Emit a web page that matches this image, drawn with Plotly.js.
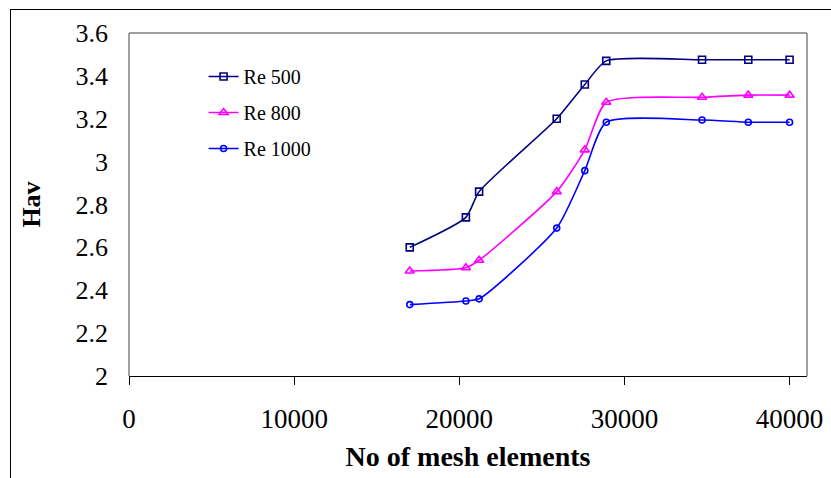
<!DOCTYPE html>
<html>
<head>
<meta charset="utf-8">
<script src="https://cdn.plot.ly/plotly-3.0.1.min.js"></script>
<style>
html,body{margin:0;padding:0;background:#fff;overflow:hidden;}
#wrap{position:relative;width:831px;height:478px;overflow:hidden;}
#frame{position:absolute;left:10px;top:9px;width:900px;height:600px;border:1px solid #000;pointer-events:none;z-index:5;}
#chart{position:absolute;left:0;top:0;width:831px;height:478px;}
</style>
</head>
<body>
<div id="wrap"><div id="chart"></div><div id="frame"></div></div>
<script>
// Data
const meshElements = [17000, 20400, 21200, 25900, 27600, 28900, 34700, 37500, 40000];
const re500  = [2.60, 2.74, 2.86, 3.20, 3.36, 3.47, 3.475, 3.475, 3.475];
const re800  = [2.49, 2.505, 2.54, 2.86, 3.055, 3.277, 3.30, 3.31, 3.31];
const re1000 = [2.333, 2.35, 2.36, 2.69, 2.958, 3.184, 3.194, 3.184, 3.184];
const seriesNames = ['Re 500', 'Re 800', 'Re 1000'];
const xTicks = [0, 10000, 20000, 30000, 40000];
const yTicks = [2, 2.2, 2.4, 2.6, 2.8, 3, 3.2, 3.4, 3.6];

const serif = 'Liberation Serif, Times New Roman, serif';

function trace(y, name, color, symbol, size, grp) {
  return {
    x: meshElements, y: y, name: name, type: 'scatter', mode: 'lines+markers',
    legendgroup: grp,
    line: {color: color, width: 1.6, shape: 'spline', smoothing: 0.6},
    marker: {symbol: symbol, size: size, color: color, line: {color: color, width: 1.6}}
  };
}

const data = [
  trace(re500, seriesNames[0], '#000080', 'square-open', 7, 'a'),
  trace(re800, seriesNames[1], '#FF00FF', 'triangle-up-open', 8, 'b'),
  trace(re1000, seriesNames[2], '#0000FF', 'circle-open', 6, 'c')
];

const layout = {
  width: 831, height: 478,
  margin: {l: 129, r: 24, t: 33, b: 102, pad: 0},
  paper_bgcolor: '#ffffff', plot_bgcolor: '#ffffff',
  font: {family: serif, color: '#000'},
  showlegend: true,
  legend: {
    x: 0.11, y: 0.93, xanchor: 'left', yanchor: 'top',
    bgcolor: 'rgba(0,0,0,0)', borderwidth: 0,
    font: {family: serif, size: 20, color: '#000'},
    tracegroupgap: 7, traceorder: 'grouped'
  },
  xaxis: {
    range: [0, 41055], tickvals: xTicks, ticktext: xTicks.map(String),
    showgrid: false, zeroline: false,
    showline: true, linecolor: '#000', linewidth: 1,
    ticks: 'outside', ticklen: 8, tickcolor: '#000', tickwidth: 1,
    ticklabelstandoff: 11,
    tickfont: {family: serif, size: 27, color: '#000'},
    title: {text: '<b>No of mesh elements</b>', font: {family: serif, size: 28, color: '#000'}, standoff: 12}
  },
  yaxis: {
    range: [2, 3.6], tickvals: yTicks, ticktext: yTicks.map(v => String(v)),
    showgrid: false, zeroline: false, showline: false,
    ticks: '', ticklabelstandoff: 20,
    tickfont: {family: serif, size: 26, color: '#000'},
    title: {text: '<b>Hav</b>', font: {family: serif, size: 26, color: '#000'}, standoff: 27}
  },
  shapes: [
    {type: 'line', xref: 'paper', yref: 'paper', x0: 0, x1: 0, y0: 0, y1: 1, line: {color: '#808080', width: 1.5}, layer: 'below'},
    {type: 'line', xref: 'paper', yref: 'paper', x0: 0, x1: 1, y0: 1, y1: 1, line: {color: '#808080', width: 1.5}, layer: 'below'},
    {type: 'line', xref: 'paper', yref: 'paper', x0: 1, x1: 1, y0: 0, y1: 1, line: {color: '#808080', width: 1.5}, layer: 'below'}
  ]
};

Plotly.newPlot('chart', data, layout, {staticPlot: true, displayModeBar: false});
</script>
</body>
</html>
